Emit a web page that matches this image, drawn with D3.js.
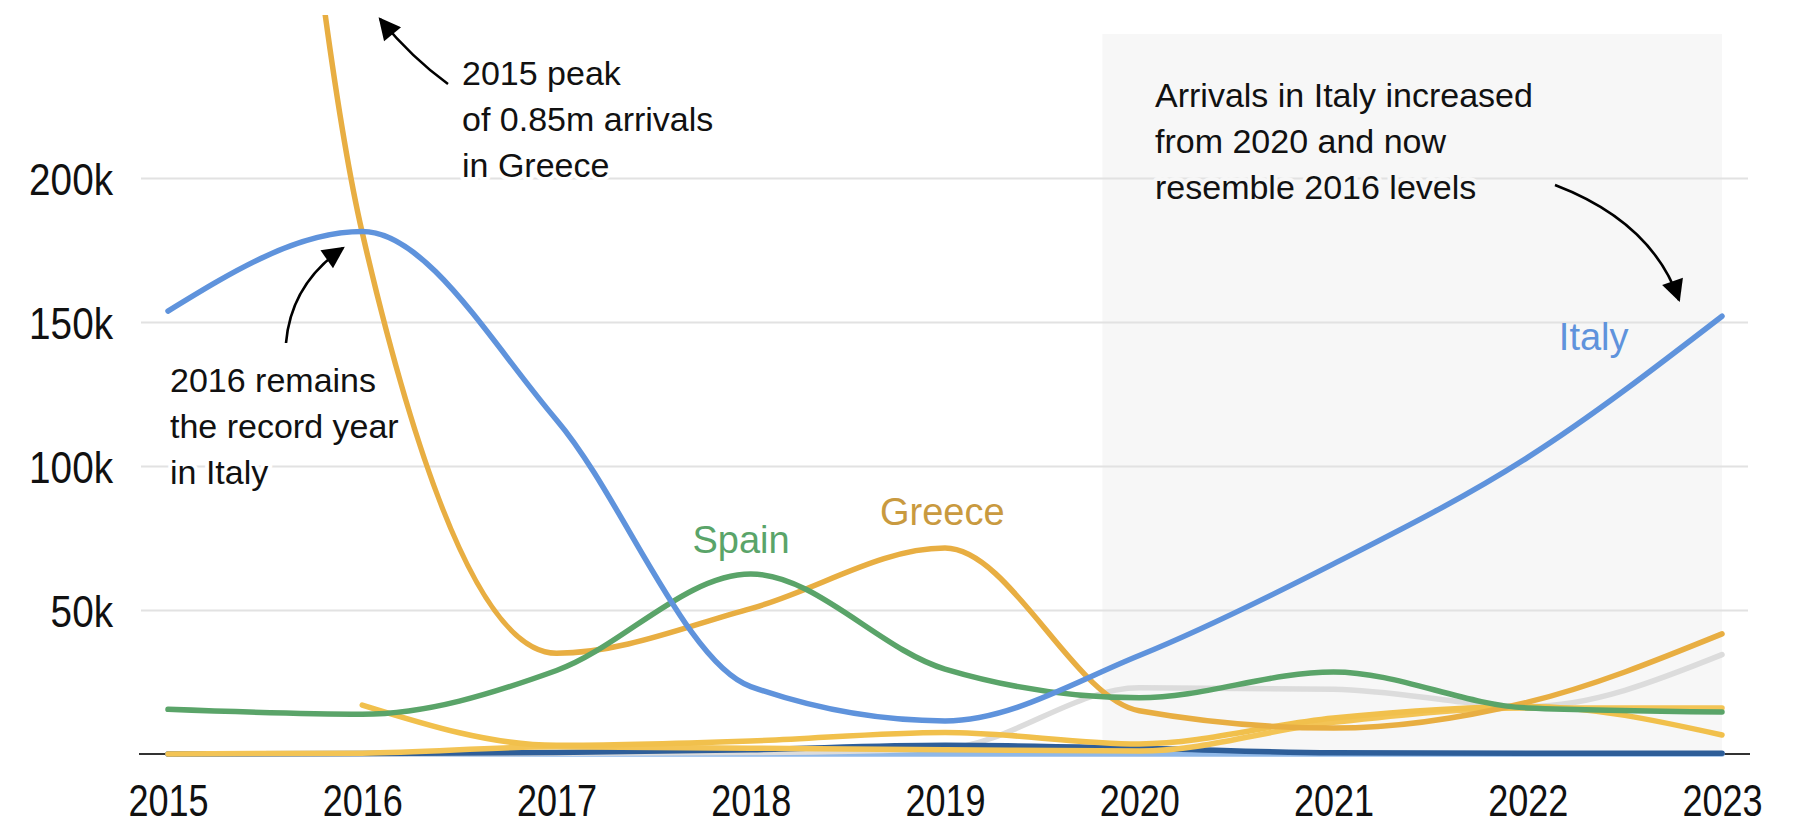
<!DOCTYPE html>
<html>
<head>
<meta charset="utf-8">
<script src="https://cdn.jsdelivr.net/npm/d3@7"></script>
<style>
  html, body { margin: 0; padding: 0; background: #fff; }
  svg { display: block; }
  .tick-label { font-family: "Liberation Sans", Arial, sans-serif; fill: #111; }
  .note { font-family: "Liberation Sans", Arial, sans-serif; font-size: 34px; fill: #111; }
  .series-label { font-family: "Liberation Sans", Arial, sans-serif; font-size: 38px; }
</style>
</head>
<body>
<div id="chart"></div>
<script>
// years on the x axis
const years = [2015, 2016, 2017, 2018, 2019, 2020, 2021, 2022, 2023];

// arrivals in thousands
const italy   = [153.8, 181.4, 116, 23.4, 11.5, 34.2, 66, 103, 152];
const greece  = [857, 181, 35, 50.5, 71.5, 15, 9, 18, 41.7];
const spain   = [15.5, 13.8, 29, 62.5, 29.5, 19.5, 28.5, 16, 14.6];
const yellowA = [null, 17, 3, 4.5, 7.5, 3.5, 12.5, 16.5, 6.6];
const yellowB = [0, 0.3, 2.5, 2, 1.5, 1, 11, 16, 16];
const grey    = [0, 0, 0.3, 0.5, 2, 23, 22.5, 16.5, 34.5];
const navy    = [0, 0.2, 0.5, 1.5, 3, 2, 0.4, 0.3, 0.3];
const paleBlue = [0, 0, 0, 0, 0, 0, 0, 0, 0];

// y ticks (thousands)
const yTicks = [50, 100, 150, 200];

// shaded period (from late 2019 to the end)
const shadeFrom = 2019.81;
const shadeTo = 2023;
const shadeTop = 250;

class ArrivalsChart {

  constructor(_config) {
    this.config = {
      parentElement: _config.parentElement,
      containerWidth: _config.containerWidth,
      containerHeight: _config.containerHeight,
      xRange: [168, 1722],
      yRange: [754, 34],
      gridLeft: 141,
      gridRight: 1748,
      clipTop: 15,
      lineWidth: 5.5,
      xSqueeze: 0.82, // the original tick font is condensed
      ySqueeze: 0.86
    }
    // draw order: faint ones first, the three labelled countries on top
    this.series = [
      {key: 'paleBlue', values: paleBlue, color: '#8fb8e8'},
      {key: 'grey', values: grey, color: '#dcdcdc'},
      {key: 'navy', values: navy, color: '#2e5e99'},
      {key: 'yellowB', values: yellowB, color: '#f3c455'},
      {key: 'yellowA', values: yellowA, color: '#f1c04c'},
      {key: 'greece', values: greece, color: '#e8ae42'},
      {key: 'spain', values: spain, color: '#5aa469'},
      {key: 'italy', values: italy, color: '#5f93dc'}
    ];
    this.initVis();
  }

  initVis() {
    let vis = this;

    vis.svg = d3.select(vis.config.parentElement).append('svg')
        .attr('width', vis.config.containerWidth)
        .attr('height', vis.config.containerHeight);

    vis.xScale = d3.scaleLinear()
        .domain([years[0], years[years.length - 1]])
        .range(vis.config.xRange);

    vis.yScale = d3.scaleLinear()
        .domain([0, 250])
        .range(vis.config.yRange);

    // clip so the 2015 Greece spike runs off the top
    vis.svg.append('defs').append('clipPath')
        .attr('id', 'plot-clip')
      .append('rect')
        .attr('x', 0)
        .attr('y', vis.config.clipTop)
        .attr('width', vis.config.containerWidth)
        .attr('height', vis.config.yRange[0] + 20 - vis.config.clipTop);

    vis.svg.select('defs').append('marker')
        .attr('id', 'arrowhead')
        .attr('viewBox', '0 0 10 10')
        .attr('refX', 9)
        .attr('refY', 5)
        .attr('markerUnits', 'userSpaceOnUse')
        .attr('markerWidth', 26)
        .attr('markerHeight', 22)
        .attr('orient', 'auto')
      .append('path')
        .attr('d', 'M0,0 L10,5 L0,10 z')
        .attr('fill', '#000');

    vis.shade = vis.svg.append('g').attr('class', 'shade');
    vis.yAxisG = vis.svg.append('g')
        .attr('class', 'axis y-axis')
        .attr('transform', `translate(${vis.config.gridLeft},0)`);
    vis.baseline = vis.svg.append('g').attr('class', 'baseline');
    vis.linesG = vis.svg.append('g').attr('clip-path', 'url(#plot-clip)');
    vis.xAxisG = vis.svg.append('g')
        .attr('class', 'axis x-axis')
        .attr('transform', `translate(0,${vis.yScale(0)})`);
    vis.notes = vis.svg.append('g').attr('class', 'notes');

    vis.xAxis = d3.axisBottom(vis.xScale)
        .tickValues(years)
        .tickFormat(d3.format('d'))
        .tickSize(0)
        .tickPadding(31);

    // labels end about 28px left of the gridlines
    vis.yAxis = d3.axisLeft(vis.yScale)
        .tickValues(yTicks)
        .tickFormat(d => d + 'k')
        .tickSize(-(vis.config.gridRight - vis.config.gridLeft))
        .tickPadding(28 / vis.config.ySqueeze);

    vis.updateVis();
  }

  updateVis() {
    let vis = this;

    vis.lineData = vis.series.map(s => ({
      key: s.key,
      color: s.color,
      points: years.map((yr, i) => ({year: yr, value: s.values[i]}))
    }));

    vis.line = d3.line()
        .defined(d => d.value != null)
        .x(d => vis.xScale(d.year))
        .y(d => vis.yScale(d.value))
        .curve(d3.curveMonotoneX);

    vis.renderVis();
    vis.renderNotes();
  }

  renderVis() {
    let vis = this;

    // grey background for the recent period
    vis.shade.append('rect')
        .attr('x', vis.xScale(shadeFrom))
        .attr('y', vis.yScale(shadeTop))
        .attr('width', vis.xScale(shadeTo) - vis.xScale(shadeFrom))
        .attr('height', vis.yScale(0) - vis.yScale(shadeTop))
        .attr('fill', '#f7f7f7');

    vis.yAxisG.call(vis.yAxis);
    vis.yAxisG.attr('font-family', null).attr('font-size', null);
    vis.yAxisG.select('.domain').remove();
    vis.yAxisG.selectAll('.tick line')
        .attr('stroke', '#e2e2e2')
        .attr('stroke-width', 2);
    vis.yAxisG.selectAll('.tick text')
        .attr('class', 'tick-label')
        .attr('dy', '0.37em')
        .style('font-size', '45px')
        .attr('transform', `scale(${vis.config.ySqueeze},1)`);

    vis.baseline.append('line')
        .attr('x1', vis.config.gridLeft - 2)
        .attr('x2', vis.config.gridRight + 2)
        .attr('y1', vis.yScale(0))
        .attr('y2', vis.yScale(0))
        .attr('stroke', '#333')
        .attr('stroke-width', 2);

    vis.linesG.selectAll('.series')
        .data(vis.lineData)
        .join('path')
        .attr('class', d => `series ${d.key}`)
        .attr('d', d => vis.line(d.points))
        .attr('fill', 'none')
        .attr('stroke', d => d.color)
        .attr('stroke-width', vis.config.lineWidth)
        .attr('stroke-linecap', 'round')
        .attr('stroke-linejoin', 'round');

    vis.xAxisG.call(vis.xAxis);
    vis.xAxisG.attr('font-family', null).attr('font-size', null);
    vis.xAxisG.select('.domain').remove();
    vis.xAxisG.selectAll('.tick text')
        .attr('class', 'tick-label')
        .style('font-size', '44px')
        .attr('transform', `scale(${vis.config.xSqueeze},1)`);
  }

  // text notes, arrows and the coloured series names
  renderNotes() {
    let vis = this;
    let x = vis.xScale, y = vis.yScale;

    const labels = [
      {text: 'Spain', year: 2017.70, value: 69.8, color: '#5aa469'},
      {text: 'Greece', year: 2018.665, value: 79.5, color: '#c99a3f'},
      {text: 'Italy', year: 2022.16, value: 140.3, color: '#5f93dc'}
    ];
    vis.notes.selectAll('.series-label')
        .data(labels)
        .join('text')
        .attr('class', 'series-label')
        .attr('x', d => x(d.year))
        .attr('y', d => y(d.value))
        .attr('fill', d => d.color)
        .text(d => d.text);

    const blocks = [
      {x: 462, y: 85, halo: '#fff', lines: ['2015 peak', 'of 0.85m arrivals', 'in Greece']},
      {x: 170, y: 392, halo: '#fff', lines: ['2016 remains', 'the record year', 'in Italy']},
      {x: 1155, y: 107, halo: '#f7f7f7', lines: ['Arrivals in Italy increased', 'from 2020 and now', 'resemble 2016 levels']}
    ];
    blocks.forEach(b => {
      let t = vis.notes.append('text')
          .attr('class', 'note')
          .attr('x', b.x)
          .attr('y', b.y)
          .attr('stroke', b.halo)
          .attr('stroke-width', 8)
          .attr('stroke-linejoin', 'round')
          .attr('paint-order', 'stroke');
      b.lines.forEach((l, i) => {
        t.append('tspan')
            .attr('x', b.x)
            .attr('dy', i === 0 ? 0 : 46)
            .text(l);
      });
    });

    const arrows = [
      'M448,84 Q412,58 380,19',
      'M286,343 Q291,284 343,248',
      'M1555,185 Q1652,222 1679,300'
    ];
    vis.notes.selectAll('.arrow')
        .data(arrows)
        .join('path')
        .attr('class', 'arrow')
        .attr('d', d => d)
        .attr('fill', 'none')
        .attr('stroke', '#000')
        .attr('stroke-width', 2.6)
        .attr('marker-end', 'url(#arrowhead)');
  }
}

new ArrivalsChart({
  parentElement: '#chart',
  containerWidth: 1810,
  containerHeight: 826
});
</script>
</body>
</html>
